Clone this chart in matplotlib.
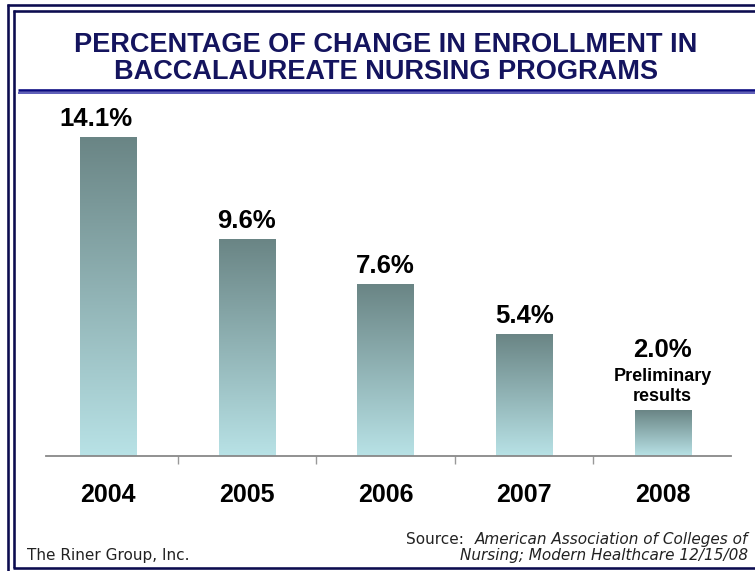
import numpy as np
import matplotlib
matplotlib.use("Agg")
import matplotlib.pyplot as plt
from matplotlib.colors import LinearSegmentedColormap
from matplotlib.lines import Line2D

# Data
years = ["2004", "2005", "2006", "2007", "2008"]
pct_change = [14.1, 9.6, 7.6, 5.4, 2.0]
value_labels = ["14.1%", "9.6%", "7.6%", "5.4%", "2.0%"]
note_2008 = "Preliminary\nresults"

title_lines = "PERCENTAGE OF CHANGE IN ENROLLMENT IN\nBACCALAUREATE NURSING PROGRAMS"
source_line1 = "American Association of Colleges of"
source_line2 = "Nursing; Modern Healthcare 12/15/08"
company = "The Riner Group, Inc."

W, H = 755, 571
fig = plt.figure(figsize=(W / 100, H / 100), dpi=100)
fig.patch.set_facecolor("white")

NAVY = "#14145e"
BORDER = "#0c0c50"

# Decorative overlay in pixel coordinates
deco = fig.add_axes([0, 0, 1, 1], zorder=0)
deco.set_xlim(0, W)
deco.set_ylim(H, 0)
deco.axis("off")

def px_line(xs, ys, lw_px, color):
    deco.add_line(Line2D(xs, ys, lw=lw_px * 0.72, color=color,
                         solid_capstyle="butt"))

# double frame
px_line([8, 8], [3.5, H], 2.6, BORDER)
px_line([6.7, W], [4.8, 4.8], 2.6, BORDER)
px_line([14.2, 14.2], [10, 568], 2.6, BORDER)
px_line([13, W], [11, 11], 2.6, BORDER)
px_line([13, W], [567.5, 567.5], 2.6, BORDER)
# title separator
px_line([18, W], [89.5, 89.5], 2.6, "#0a0a80")
px_line([18, W], [92.8, 92.8], 1.6, "#3a3aa8")

# Title
fig.text(386 / W, 1 - 58.5 / H, title_lines, ha="center", va="center",
         fontsize=19.5, fontweight="bold", color=NAVY,
         family="Liberation Sans", linespacing=1.02)

# Chart axes
ax = fig.add_axes([39 / W, 1 - 456 / H, 693 / W, 356 / H], zorder=1)
ax.set_xlim(-0.5, len(years) - 0.5)
ax.set_ylim(0, 15.77)
ax.patch.set_alpha(0)

cmap = LinearSegmentedColormap.from_list("bar", ["#b8e2e6", "#6a8585"])
grad = np.linspace(0, 1, 256).reshape(-1, 1)
bar_w = 0.405
x = np.arange(len(years))

bars = ax.bar(x, pct_change, width=bar_w, color="none", edgecolor="none")
for rect, v in zip(bars, pct_change):
    x0 = rect.get_x()
    ax.imshow(grad, cmap=cmap, origin="lower", aspect="auto",
              extent=[x0, x0 + rect.get_width(), 0, v], zorder=2,
              interpolation="bicubic")

# horizontal nudge (points) for the widest value label
label_dx = {0: -9}

for xi, v, lab in zip(x, pct_change, value_labels):
    if xi == len(years) - 1:
        ax.annotate(note_2008, (xi, v), xytext=(0, 4), textcoords="offset points",
                    ha="center", va="bottom", fontsize=13, fontweight="bold",
                    family="Liberation Sans", linespacing=1.25)
        ax.annotate(lab, (xi, v), xytext=(0, 35), textcoords="offset points",
                    ha="center", va="bottom", fontsize=18.5, fontweight="bold",
                    family="Liberation Sans")
    else:
        ax.annotate(lab, (xi, v), xytext=(label_dx.get(xi, 0), 4.5),
                    textcoords="offset points",
                    ha="center", va="bottom", fontsize=18.5, fontweight="bold",
                    family="Liberation Sans")

for s in ["top", "right", "left"]:
    ax.spines[s].set_visible(False)
ax.spines["bottom"].set_color("#888888")
ax.spines["bottom"].set_linewidth(1.3)
ax.spines["bottom"].set_bounds(-0.45, 4.49)
ax.set_yticks([])

ax.set_xticks(np.arange(0.5, len(years) - 1, 1.0))
ax.set_xticklabels([])
ax.tick_params(axis="x", direction="out", length=6, width=1, color="#999999")

for xi, yr in zip(x, years):
    ax.text(xi, -1.72, yr, ha="center", va="center", fontsize=18,
            fontweight="bold", family="Liberation Sans", clip_on=False)

# Source and company footer
foot = dict(fontsize=11, family="DejaVu Sans", color="#222222", va="center")
fig.text(464 / W, 1 - 539.5 / H, "Source:", ha="right", **foot)
fig.text(748 / W, 1 - 539.5 / H, source_line1, ha="right", style="italic", **foot)
fig.text(748 / W, 1 - 555.5 / H, source_line2, ha="right", style="italic", **foot)
fig.text(27 / W, 1 - 555.5 / H, company, ha="left", **foot)

fig.savefig("out.png", dpi=100, facecolor="white")
